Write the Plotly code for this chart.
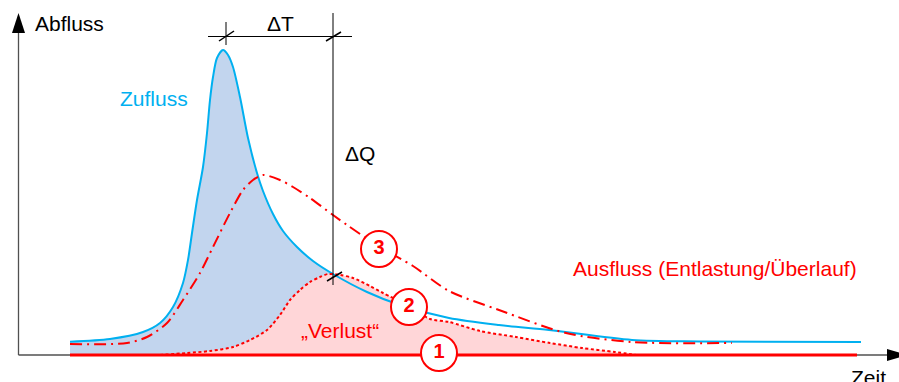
import numpy as np
import plotly.graph_objects as go

# Schematic hydrograph: time (arbitrary units) vs discharge (arbitrary units)
zufluss_t = [5.3, 9.3, 12.6, 14.3, 15.6, 16.6, 17.1, 17.5, 18.0, 18.6, 19.0, 19.3, 19.6,
             20.0, 20.6, 21.1, 21.6, 22.3, 23.1, 24.0, 24.6, 25.6, 26.6, 28.0, 29.6,
             31.6, 35.0, 38.3, 43.2, 48.2, 53.2, 61.5, 68.3, 84.4]
zufluss_q = [1.33, 1.6, 2.3, 3.2, 4.8, 7.2, 9.5, 12.2, 15.5, 18.8, 22.2, 25.5, 27.8,
             29.7, 30.5, 30.0, 28.8, 25.8, 21.7, 18.2, 16.4, 14.1, 12.4, 10.8, 9.4,
             8.1, 6.3, 5.0, 3.7, 3.0, 2.5, 1.5, 1.35, 1.3]

# curve 2: overflow with storage (dotted, "Verlust")
ausfluss2_t = [14.3, 17.0, 19.3, 21.6, 23.3, 25.0, 26.3, 27.3, 28.3, 29.3, 30.3, 31.1,
               32.3, 33.6, 35.3, 36.6, 39.2, 41.3, 43.2, 46.3, 49.9, 53.3, 56.5, 59.8, 61.9]
ausfluss2_q = [0.0, 0.2, 0.4, 0.8, 1.5, 2.5, 4.0, 5.5, 6.5, 7.3, 7.8, 8.1,
               8.0, 7.7, 6.9, 6.2, 4.9, 3.6, 3.3, 2.4, 1.8, 1.2, 0.7, 0.3, 0.0]

# curve 3: retarded outflow (dash-dot)
ausfluss3_t = [5.3, 11.0, 13.0, 15.0, 16.6, 18.3, 19.6, 21.3, 22.6, 23.6, 24.6, 26.3,
               27.6, 29.3, 31.6, 33.0, 36.1, 39.6, 43.2, 48.2, 54.9, 61.5, 71.5]
ausfluss3_q = [1.1, 1.2, 1.8, 3.2, 5.5, 8.2, 10.8, 14.2, 16.5, 17.5, 18.0, 17.5,
               16.8, 15.7, 14.0, 13.0, 10.9, 8.9, 6.4, 4.5, 2.2, 1.3, 1.2]

# curve 1: no outflow
ausfluss1_t = [5.3, 84.0]
ausfluss1_q = [0.0, 0.0]

marker_t = [42.2, 39.2, 36.2]
marker_q = [0.2, 4.8, 10.6]
marker_txt = ["1", "2", "3"]

t_cross = 31.6     # end of delta T, where inflow meets outflow 2
q_cross = 8.1

BLUE = "#00B0F0"
RED = "#FF0000"
FONT = "Liberation Sans, Arial, sans-serif"

zt = np.array(zufluss_t)
zq = np.array(zufluss_q)
mask = zt <= t_cross

fig = go.Figure()

fig.add_trace(go.Scatter(
    x=zt[mask], y=zq[mask], mode="lines", fill="tozeroy",
    fillcolor="#C2D5EE", line=dict(width=0, shape="spline", smoothing=0.8),
    hoverinfo="skip",
))
fig.add_trace(go.Scatter(
    x=ausfluss2_t, y=ausfluss2_q, mode="lines", fill="tozeroy",
    fillcolor="#FFD6D8", line=dict(width=0, shape="spline", smoothing=0.8),
    hoverinfo="skip",
))
fig.add_trace(go.Scatter(
    x=ausfluss1_t, y=ausfluss1_q, mode="lines",
    line=dict(color=RED, width=3), hoverinfo="skip",
))
fig.add_trace(go.Scatter(
    x=zufluss_t, y=zufluss_q, mode="lines",
    line=dict(color=BLUE, width=2, shape="spline", smoothing=0.8), hoverinfo="skip",
))
fig.add_trace(go.Scatter(
    x=ausfluss2_t, y=ausfluss2_q, mode="lines",
    line=dict(color=RED, width=2, dash="3px,2.5px", shape="spline", smoothing=0.8),
    hoverinfo="skip",
))
fig.add_trace(go.Scatter(
    x=ausfluss3_t, y=ausfluss3_q, mode="lines",
    line=dict(color=RED, width=2, dash="12px,5px,2px,5px", shape="spline", smoothing=0.8),
    hoverinfo="skip",
))
fig.add_trace(go.Scatter(
    x=marker_t, y=marker_q, mode="markers+text", text=marker_txt,
    textposition="middle center",
    textfont=dict(family=FONT, size=20, color=RED, weight="bold"),
    marker=dict(size=36, color="white", line=dict(color=RED, width=2)),
    hoverinfo="skip",
))

# axes with arrow heads
axis_col = "#505050"
shapes = [
    dict(type="line", x0=0.15, y0=0, x1=0.15, y1=33.5, line=dict(color=axis_col, width=1.3), layer="below"),
    dict(type="line", x0=0.15, y0=0, x1=87.5, y1=0, line=dict(color=axis_col, width=1.3), layer="below"),
    dict(type="path", path="M 0.15 34.2 L -0.5 32.2 L 0.8 32.2 Z", fillcolor="black", line=dict(width=0)),
    dict(type="path", path="M 89.0 0 L 87.0 0.6 L 87.0 -0.6 Z", fillcolor="black", line=dict(width=0)),
    # dimension lines for delta T / delta Q
    dict(type="line", x0=19.1, y0=31.85, x1=33.5, y1=31.85, line=dict(color="black", width=1)),
    dict(type="line", x0=20.9, y0=33.3, x1=20.9, y1=31.0, line=dict(color="black", width=1)),
    dict(type="line", x0=t_cross, y0=34.2, x1=t_cross, y1=7.0, line=dict(color="black", width=1)),
    dict(type="line", x0=20.2, y0=31.4, x1=21.7, y1=32.4, line=dict(color="black", width=1.5)),
    dict(type="line", x0=30.9, y0=31.4, x1=32.4, y1=32.3, line=dict(color="black", width=1.5)),
    dict(type="line", x0=t_cross - 0.6, y0=q_cross - 0.7, x1=t_cross + 0.9, y1=q_cross + 0.2,
         line=dict(color="black", width=1.5)),
]

annotations = [
    dict(x=1.6, y=33.2, text="Abfluss", xanchor="left", font=dict(color="black")),
    dict(x=13.65, y=25.7, text="Zufluss", font=dict(color=BLUE)),
    dict(x=26.3, y=33.2, text="\u0394T", font=dict(color="black")),
    dict(x=32.6, y=20.2, text="\u0394Q", xanchor="left", font=dict(color="black")),
    dict(x=32.3, y=2.5, text="\u201eVerlust\u201c", font=dict(color=RED)),
    dict(x=55.4, y=8.7, text="Ausfluss (Entlastung/\u00dcberlauf)", xanchor="left", font=dict(color=RED)),
    dict(x=83.2, y=-2.2, text="Zeit", xanchor="left", font=dict(color="black")),
]
for a in annotations:
    a.update(showarrow=False, xref="x", yref="y")
    a["font"].update(family=FONT, size=21)

fig.update_layout(
    width=899,
    height=382,
    margin=dict(l=0, r=0, t=0, b=0),
    paper_bgcolor="white",
    plot_bgcolor="white",
    showlegend=False,
    hovermode=False,
    shapes=shapes,
    annotations=annotations,
    xaxis=dict(range=[-1.7, 88.2], visible=False, fixedrange=True),
    yaxis=dict(range=[-2.7, 35.5], visible=False, fixedrange=True),
)

fig.write_html("out.html", config={"displayModeBar": False},
               post_script="document.body.style.margin='0px';")
